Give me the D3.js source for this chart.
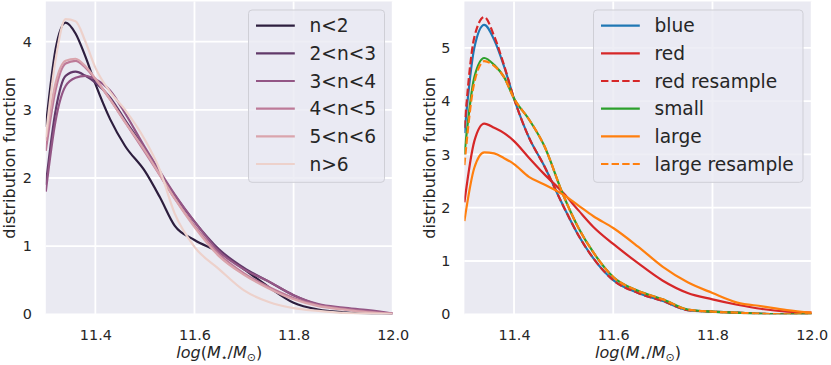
<!DOCTYPE html>
<html><head><meta charset="utf-8">
<script src="https://cdn.jsdelivr.net/npm/d3@7"></script>
<style>body{margin:0;background:#fff}svg{display:block;font-family:"DejaVu Sans",sans-serif}</style>
</head><body><svg id="c" width="831" height="365"></svg>
<script>
// ---- data ----
const xGrid = [11.30, 11.32, 11.34, 11.36, 11.38, 11.40, 11.43, 11.46, 11.50, 11.53, 11.56, 11.60, 11.65, 11.70, 11.75, 11.80, 11.85, 11.90, 11.95, 12.00];
const leftLabels = ["n<2", "2<n<3", "3<n<4", "4<n<5", "5<n<6", "n>6"];
const leftColors = ["#2d1e3e", "#613969", "#935685", "#bd7a98", "#daa4ac", "#edd1cb"];
const nLt2  = [2.75, 3.90, 4.28, 4.12, 3.78, 3.38, 2.86, 2.47, 2.10, 1.72, 1.30, 1.09, 0.91, 0.66, 0.40, 0.17, 0.07, 0.03, 0.01, 0.00];
const n2to3 = [1.90, 3.00, 3.50, 3.56, 3.50, 3.40, 3.18, 2.85, 2.42, 2.08, 1.75, 1.36, 0.95, 0.68, 0.48, 0.28, 0.14, 0.08, 0.04, 0.01];
const n3to4 = [1.80, 2.85, 3.35, 3.47, 3.50, 3.45, 3.28, 2.95, 2.45, 2.10, 1.76, 1.36, 0.92, 0.66, 0.48, 0.28, 0.15, 0.10, 0.06, 0.01];
const n4to5 = [2.40, 3.30, 3.68, 3.72, 3.62, 3.45, 3.15, 2.82, 2.38, 2.04, 1.70, 1.30, 0.88, 0.60, 0.40, 0.24, 0.13, 0.08, 0.04, 0.01];
const n5to6 = [2.55, 3.40, 3.72, 3.75, 3.64, 3.46, 3.15, 2.82, 2.40, 2.05, 1.70, 1.28, 0.85, 0.58, 0.38, 0.22, 0.12, 0.07, 0.03, 0.01];
const nGt6  = [2.60, 3.75, 4.33, 4.30, 4.00, 3.62, 3.26, 3.00, 2.56, 2.12, 1.48, 0.99, 0.66, 0.35, 0.18, 0.09, 0.05, 0.02, 0.01, 0.00];

const rightLabels = ["blue", "red", "red resample", "small", "large", "large resample"];
const rightColors = ["#1f77b4", "#d62728", "#d62728", "#2ca02c", "#ff7f0e", "#ff7f0e"];
const rightDashed = [false, false, true, false, false, true];
const blue        = [3.40, 5.00, 5.43, 5.15, 4.65, 4.05, 3.32, 2.80, 2.02, 1.48, 1.05, 0.64, 0.40, 0.25, 0.08, 0.05, 0.03, 0.01, 0.00, 0.00];
const red         = [2.10, 3.25, 3.58, 3.50, 3.40, 3.25, 2.94, 2.64, 2.27, 1.95, 1.64, 1.32, 0.96, 0.63, 0.40, 0.28, 0.18, 0.10, 0.05, 0.03];
const redResample = [3.50, 5.20, 5.58, 5.22, 4.67, 4.05, 3.32, 2.80, 2.02, 1.48, 1.05, 0.64, 0.40, 0.25, 0.08, 0.05, 0.03, 0.01, 0.00, 0.00];
const small       = [3.00, 4.45, 4.81, 4.68, 4.45, 4.05, 3.66, 3.18, 2.22, 1.62, 1.16, 0.70, 0.44, 0.28, 0.09, 0.05, 0.03, 0.01, 0.00, 0.00];
const large       = [1.75, 2.75, 3.04, 3.02, 2.93, 2.82, 2.58, 2.44, 2.24, 2.04, 1.84, 1.62, 1.27, 0.89, 0.60, 0.40, 0.22, 0.15, 0.08, 0.03];
const largeResample=[2.80, 4.35, 4.75, 4.66, 4.45, 4.05, 3.66, 3.18, 2.22, 1.62, 1.16, 0.70, 0.44, 0.28, 0.09, 0.05, 0.03, 0.01, 0.00, 0.00];

const xTicks = [11.4, 11.6, 11.8, 12.0];
const yTicksLeft = [0, 1, 2, 3, 4];
const yTicksRight = [0, 1, 2, 3, 4, 5];

const leftSeries = [nLt2, n2to3, n3to4, n4to5, n5to6, nGt6];
const rightSeries = [blue, red, redResample, small, large, largeResample];

// ---- drawing ----
const svg = d3.select("#c");
const BG = "#eaeaf2", TXT = "#262626";

function panel(opts) {
  const {x, y, ticksY, series, colors, dashed, labels, legendX, id} = opts;
  const g = svg.append("g");
  const [x0, x1] = x.range(), [y0, y1] = y.range();
  g.append("rect").attr("x", x0).attr("y", y1).attr("width", x1 - x0).attr("height", y0 - y1).attr("fill", BG);
  g.append("clipPath").attr("id", id).append("rect").attr("x", x0).attr("y", y1).attr("width", x1 - x0).attr("height", y0 - y1);
  // grid
  g.selectAll(".gx").data(xTicks).enter().append("line")
    .attr("x1", d => x(d)).attr("x2", d => x(d)).attr("y1", y1).attr("y2", y0)
    .attr("stroke", "#fff").attr("stroke-width", 1.8);
  g.selectAll(".gy").data(ticksY).enter().append("line")
    .attr("x1", x0).attr("x2", x1).attr("y1", d => y(d)).attr("y2", d => y(d))
    .attr("stroke", "#fff").attr("stroke-width", 1.8);
  // axes
  const ax = g.append("g").attr("transform", `translate(0,${y0})`)
    .call(d3.axisBottom(x).tickValues(xTicks).tickSize(0).tickPadding(15.5).tickFormat(d3.format(".1f")));
  const ay = g.append("g").attr("transform", `translate(${x0},0)`)
    .call(d3.axisLeft(y).tickValues(ticksY).tickSize(0).tickPadding(14).tickFormat(d3.format("d")));
  [ax, ay].forEach(a => {
    a.select(".domain").remove();
    a.selectAll("text").attr("font-size", 14.4).attr("fill", TXT).attr("font-family", "DejaVu Sans");
  });
  // lines
  const line = d3.line().x((d, i) => x(xGrid[i])).y(d => y(d)).curve(d3.curveMonotoneX);
  const lg = g.append("g").attr("clip-path", `url(#${id})`);
  series.forEach((s, i) => {
    lg.append("path").attr("d", line(s)).attr("fill", "none")
      .attr("stroke", colors[i]).attr("stroke-width", 2.2)
      .attr("stroke-dasharray", dashed[i] ? "7.4,3.2" : null);
  });
  // legend
  const lx = legendX, ly = 10, lw = opts.legendW, lh = 172.3;
  g.append("rect").attr("x", lx).attr("y", ly).attr("width", lw).attr("height", lh)
    .attr("rx", 3.5).attr("fill", BG).attr("fill-opacity", 0.8).attr("stroke", "#cfcfd6").attr("stroke-width", 1);
  labels.forEach((lab, i) => {
    const ry = 25.7 + i * 27.66;
    g.append("line").attr("x1", lx + 7.5).attr("x2", lx + 46.3).attr("y1", ry).attr("y2", ry)
      .attr("stroke", colors[i]).attr("stroke-width", 2.2)
      .attr("stroke-dasharray", dashed[i] ? "7.4,3.2" : null);
    g.append("text").attr("x", lx + 61).attr("y", ry + 6.6).attr("font-size", 18.6).attr("fill", TXT).text(lab);
  });
  // x label
  const xl = g.append("text").attr("x", (x0 + x1) / 2).attr("y", 357.5).attr("text-anchor", "middle")
    .attr("font-size", 16).attr("fill", TXT);
  xl.append("tspan").attr("font-style", "italic").text("log");
  xl.append("tspan").text("(");
  xl.append("tspan").attr("font-style", "italic").text("M");
  xl.append("tspan").attr("font-size", 11).attr("dy", 3).text("⋆");
  xl.append("tspan").attr("dy", -3).text("/");
  xl.append("tspan").attr("font-style", "italic").text("M");
  xl.append("tspan").attr("font-size", 11).attr("dy", 3).text("⊙");
  xl.append("tspan").attr("dy", -3).text(")");
  // y label
  g.append("text").attr("transform", `translate(${opts.yLabelX},${(y0 + y1) / 2}) rotate(-90)`)
    .attr("text-anchor", "middle").attr("font-size", 16).attr("fill", TXT).text("distribution function");
}

panel({
  id: "cl", x: d3.scaleLinear([11.3, 12.0], [45.8, 392.7]), y: d3.scaleLinear([0, 4.59], [314.3, 1.5]),
  ticksY: yTicksLeft, series: leftSeries, colors: leftColors, dashed: leftSeries.map(() => false),
  labels: leftLabels, legendX: 248.5, legendW: 136, yLabelX: 15
});
panel({
  id: "cr", x: d3.scaleLinear([11.3, 12.0], [464.4, 811.7]), y: d3.scaleLinear([0, 5.87], [314.3, 1.5]),
  ticksY: yTicksRight, series: rightSeries, colors: rightColors, dashed: rightDashed,
  labels: rightLabels, legendX: 593.5, legendW: 209.5, yLabelX: 435
});
</script></body></html>
